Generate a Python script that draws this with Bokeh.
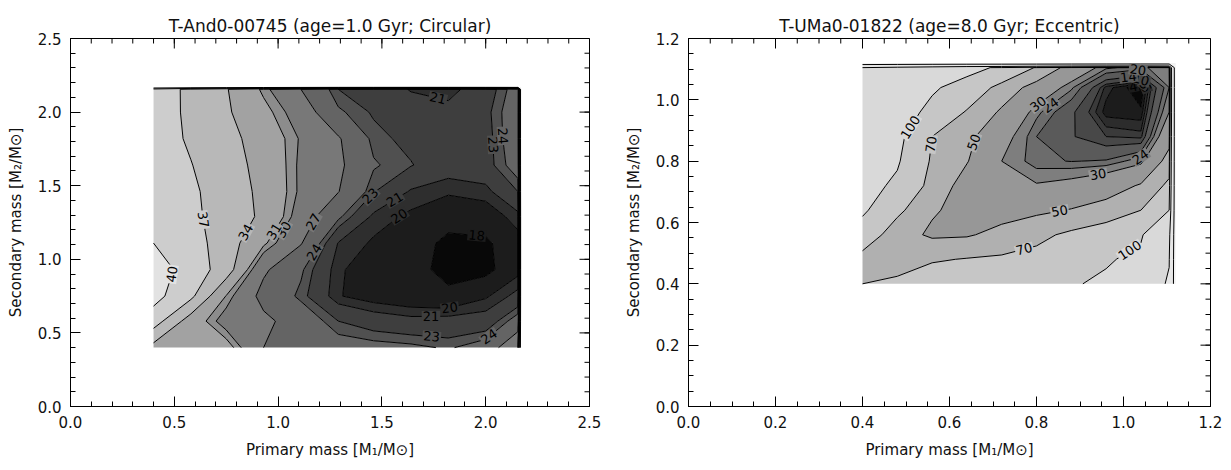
import numpy as np
import contourpy
from bokeh.plotting import figure
from bokeh.layouts import row
from bokeh.models import Range1d, FixedTicker, PrintfTickFormatter
from bokeh.core.properties import value
from bokeh.embed import file_html
from bokeh.resources import INLINE

# ---------------- data: left panel ----------------
L_TITLE = "T-And0-00745 (age=1.0 Gyr; Circular)"
L_X = [0.40, 0.58, 0.75, 0.93, 1.11, 1.29, 1.46, 1.64, 1.82, 2.00, 2.155, 2.17]
L_Y = [0.40, 0.58, 0.75, 0.93, 1.11, 1.29, 1.46, 1.64, 1.82, 2.00, 2.155, 2.17]
L_Z = [
    [33.0, 34.0, 32.0, 27.0, 25.5, 25.0, 24.7, 24.4, 23.8, 25.0, 30.0, 46],
    [38.5, 32.5, 29.0, 27.7, 25.5, 23.0, 22.0, 21.5, 21.6, 21.8, 25.0, 46],
    [41.0, 37.7, 30.9, 26.0, 23.6, 20.1, 19.3, 18.8, 18.5, 19.8, 21.5, 46],
    [41.5, 38.7, 35.6, 27.5, 24.3, 20.2, 19.2, 18.8, 17.3, 17.4, 19.5, 46],
    [40.0, 38.3, 35.5, 31.4, 27.2, 20.9, 19.8, 19.0, 17.5, 17.6, 19.5, 46],
    [38.0, 37.7, 35.6, 33.5, 28.8, 24.4, 20.6, 19.7, 18.8, 19.2, 20.5, 46],
    [38.0, 37.5, 35.6, 33.3, 29.6, 27.1, 23.1, 20.8, 20.2, 20.5, 23.0, 46],
    [38.3, 37.1, 35.2, 33.1, 29.6, 27.6, 24.2, 23.1, 21.8, 22.3, 25.0, 46],
    [38.5, 36.6, 35.0, 32.6, 29.8, 27.3, 23.5, 22.5, 21.5, 22.3, 25.5, 46],
    [38.8, 36.3, 34.4, 31.7, 28.8, 24.3, 22.8, 21.8, 21.5, 22.5, 25.5, 46],
    [39.0, 36.2, 34.2, 30.6, 27.0, 23.0, 22.0, 20.9, 20.5, 22.0, 25.0, 46],
    [46, 46, 46, 46, 46, 46, 46, 46, 46, 46, 46, 46],
]
L_LEVELS = [18, 20, 21, 23, 24, 27, 30, 31, 34, 37, 40, 43]
L_COLORS = ["#080808", "#1c1c1c", "#2e2e2e", "#3e3e3e", "#505050", "#646464", "#787878",
            "#8c8c8c", "#a2a2a2", "#b8b8b8", "#cdcdcd", "#e2e2e2", "#f2f2f2"]
L_TICKS = [0.0, 0.5, 1.0, 1.5, 2.0, 2.5]

# ---------------- data: right panel ----------------
R_TITLE = "T-UMa0-01822 (age=8.0 Gyr; Eccentric)"
R_X = [0.40, 0.48, 0.56, 0.64, 0.72, 0.80, 0.88, 0.96, 1.04, 1.105, 1.12]
R_Y = [0.40, 0.48, 0.56, 0.64, 0.72, 0.80, 0.88, 0.96, 1.04, 1.105, 1.12]
R_Z = [
    [70, 78, 82, 85, 88, 92, 96, 108, 140, 210, 500],
    [62, 52, 68, 71, 73, 76, 86, 95, 112, 195, 500],
    [85, 58, 47, 48, 56, 65, 74, 82, 94, 170, 500],
    [105, 75, 52, 44, 42, 46, 51, 58, 70, 100, 500],
    [110, 95, 62, 42, 31, 31, 34, 40, 52, 75, 500],
    [115, 103, 67, 51, 30, 21, 19.8, 20.5, 27, 58, 500],
    [120, 108, 70, 55, 35, 20, 14.5, 10.0, 9.0, 42, 500],
    [130, 115, 92, 68, 47, 25.5, 15, 5.0, 4.5, 30, 500],
    [150, 125, 104, 88, 62, 42, 25, 7.0, 2.0, 24, 500],
    [200, 170, 140, 110, 95, 68, 42, 25, 22, 30, 500],
    [500, 500, 500, 500, 500, 500, 500, 500, 500, 500, 500],
]
R_LEVELS = [4, 6, 8, 10, 14, 20, 24, 30, 50, 70, 100, 200, 400]
R_COLORS = ["#080808", "#1c1c1c", "#2c2c2c", "#3a3a3a", "#484848", "#5a5a5a", "#6c6c6c",
            "#7e7e7e", "#979797", "#b0b0b0", "#c6c6c6", "#d9d9d9", "#e6e6e6", "#f2f2f2"]
R_TICKS = [0.0, 0.2, 0.4, 0.6, 0.8, 1.0, 1.2]

X_LABEL = "Primary mass [M\u2081/M\u2299]"
Y_LABEL = "Secondary mass [M\u2082/M\u2299]"

FONT = "DejaVu Sans"
H = 470
B_TOP, B_BOTTOM = 38, 64


def style_axis(ax, majors, minors, label):
    ax.ticker = FixedTicker(ticks=majors, minor_ticks=minors)
    ax.formatter = PrintfTickFormatter(format="%.1f")
    ax.major_tick_in = 10
    ax.major_tick_out = 0
    ax.minor_tick_in = 5
    ax.minor_tick_out = 0
    ax.axis_line_color = "black"
    ax.major_tick_line_color = "black"
    ax.minor_tick_line_color = "black"
    ax.major_label_text_font = FONT
    ax.major_label_text_color = "#111111"
    ax.major_label_text_font_size = "15px"
    ax.major_label_standoff = 9
    ax.axis_label = label
    ax.axis_label_text_font = FONT
    ax.axis_label_text_font_size = "15px"
    ax.axis_label_text_font_style = "normal"
    ax.axis_label_text_color = "#111111"
    ax.axis_label_standoff = 10


def make_panel(title, xs, ys, zz, levels, colors, ticks, n_minor, w, bl, br):
    axmax = ticks[-1]
    p = figure(width=w, height=H, x_range=Range1d(0, axmax), y_range=Range1d(0, axmax),
               output_backend="svg", toolbar_location=None,
               min_border_left=bl, min_border_right=br,
               min_border_top=B_TOP, min_border_bottom=B_BOTTOM)
    p.grid.visible = False
    p.outline_line_color = "black"
    p.background_fill_color = "white"
    p.border_fill_color = "white"

    step = ticks[1] - ticks[0]
    minors = [round(i * step / n_minor, 4) for i in range(int(round(axmax / step * n_minor)) + 1)]

    style_axis(p.below[0], ticks, minors, X_LABEL)
    style_axis(p.left[0], ticks, minors, Y_LABEL)

    # inward ticks on the top and right frame edges
    p.ray(x=ticks, y=[axmax] * len(ticks), length=10, length_units="screen",
          angle=-np.pi / 2, line_color="black", line_width=1)
    p.ray(x=minors, y=[axmax] * len(minors), length=5, length_units="screen",
          angle=-np.pi / 2, line_color="black", line_width=1)
    p.ray(x=[axmax] * len(ticks), y=ticks, length=10, length_units="screen",
          angle=np.pi, line_color="black", line_width=1)
    p.ray(x=[axmax] * len(minors), y=minors, length=5, length_units="screen",
          angle=np.pi, line_color="black", line_width=1)

    p.title.text = title
    p.title.align = "center"
    p.title.text_font = FONT
    p.title.text_font_size = "17px"
    p.title.text_font_style = "normal"
    p.title.text_color = "#111111"
    p.title.standoff = 6

    x = np.asarray(xs, dtype=float)
    y = np.asarray(ys, dtype=float)
    z = np.asarray(zz, dtype=float)
    fill_levels = [0] + list(levels) + [10000]
    p.contour(x, y, z, fill_levels, fill_color=colors, line_color="black", line_width=1)

    # contour labels placed along each line (interior part only)
    fw = w - bl - br
    fh = H - B_TOP - B_BOTTOM
    sx = fw / axmax
    sy = fh / axmax
    xin, yin = x[-2] + 1e-9, y[-2] + 1e-9
    gen = contourpy.contour_generator(x, y, z)
    lx, ly, lt, la, lb = [], [], [], [], []
    for li, lev in enumerate(levels):
        for line in gen.lines(lev):
            inside = (line[:, 0] <= xin) & (line[:, 1] <= yin)
            runs = []
            cur = []
            for k in range(len(line)):
                if inside[k]:
                    cur.append(line[k])
                else:
                    if len(cur) > 1:
                        runs.append(np.array(cur))
                    cur = []
            if len(cur) > 1:
                runs.append(np.array(cur))
            for r in runs:
                px = r[:, 0] * sx
                py = r[:, 1] * sy
                seg = np.hypot(np.diff(px), np.diff(py))
                cum = np.concatenate([[0], np.cumsum(seg)])
                total = cum[-1]
                if total < 45:
                    continue
                n = max(1, int(total // 210))
                for i in range(n):
                    s = (i + 0.5) * total / n
                    xm = np.interp(s, cum, r[:, 0])
                    ym = np.interp(s, cum, r[:, 1])
                    a0 = np.interp(max(s - 8, 0), cum, px), np.interp(max(s - 8, 0), cum, py)
                    a1 = np.interp(min(s + 8, total), cum, px), np.interp(min(s + 8, total), cum, py)
                    ang = np.arctan2(a1[1] - a0[1], a1[0] - a0[0])
                    if ang > np.pi / 2:
                        ang -= np.pi
                    elif ang < -np.pi / 2:
                        ang += np.pi
                    lx.append(xm)
                    ly.append(ym)
                    lt.append(str(int(lev)))
                    la.append(ang)
                    lb.append(colors[li + 1])
    p.text(x=lx, y=ly, text=lt, angle=la, text_align="center", text_baseline="middle",
           text_font=value(FONT), text_font_size="13px", text_color="black",
           background_fill_color=lb, padding=1)
    return p


p1 = make_panel(L_TITLE, L_X, L_Y, L_Z, L_LEVELS, L_COLORS, L_TICKS, 5, 615, 70, 26)
p2 = make_panel(R_TITLE, R_X, R_Y, R_Z, R_LEVELS, R_COLORS, R_TICKS, 4, 616, 73, 21)

layout = row(p1, p2)
open("out.html", "w").write(file_html(layout, INLINE))
